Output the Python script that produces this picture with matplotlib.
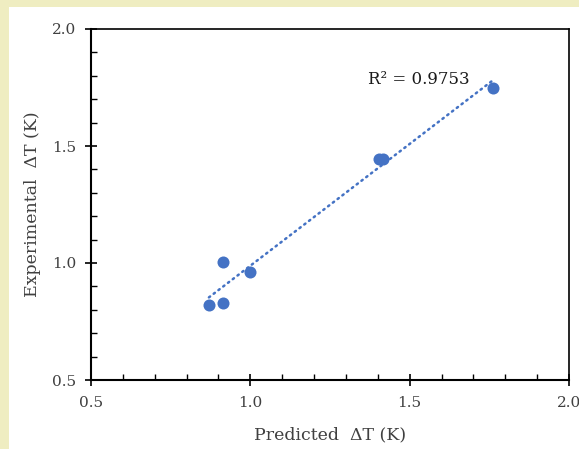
import numpy as np
import matplotlib.pyplot as plt
from matplotlib.patches import Rectangle
from matplotlib.ticker import MultipleLocator

predicted = [0.870, 0.914, 0.914, 0.999, 1.404, 1.416, 1.761]
experimental = [0.820, 0.829, 1.004, 0.960, 1.444, 1.444, 1.748]
r2_label = "R² = 0.9753"

blue = "#4472C4"
plt.rcParams['font.family'] = ['DejaVu Serif']

fig = plt.figure(figsize=(5.79, 4.49), dpi=100, facecolor="#EFEDC1")
fig.patches.append(Rectangle((9 / 579, 0), 1, 1 - 7 / 449, transform=fig.transFigure,
                             facecolor="white", edgecolor="none", zorder=-10))
ax = fig.add_axes([91 / 579, 1 - 380 / 449, 478 / 579, 351 / 449])
ax.set_zorder(5)

ax.scatter(predicted, experimental, s=75, color=blue, zorder=3, linewidths=0)

coef = np.polyfit(predicted, experimental, 1)
xs = np.array([min(predicted), max(predicted)])
ax.plot(xs, np.polyval(coef, xs), color=blue, lw=1.8, linestyle=(0, (0.6, 1.8)),
        dash_capstyle='round', zorder=2)

ax.text(1.37, 1.785, r2_label, fontsize=12, color="#1a1a1a", va='center')

ax.set_xlim(0.5, 2.0)
ax.set_ylim(0.5, 2.0)
ax.xaxis.set_major_locator(MultipleLocator(0.5))
ax.yaxis.set_major_locator(MultipleLocator(0.5))
ax.xaxis.set_minor_locator(MultipleLocator(0.1))
ax.yaxis.set_minor_locator(MultipleLocator(0.1))
ax.xaxis.set_major_formatter('{x:.1f}')
ax.yaxis.set_major_formatter('{x:.1f}')
ax.tick_params(which='major', direction='inout', length=9, width=1.2,
               labelsize=11, labelcolor="#404040")
ax.tick_params(axis='x', which='major', pad=7)
ax.tick_params(axis='y', which='major', pad=6)
ax.tick_params(which='minor', direction='in', length=4, width=1)
for s in ['left', 'bottom']:
    ax.spines[s].set_linewidth(1.5)
for s in ['top', 'right']:
    ax.spines[s].set_linewidth(1.2)

ax.set_xlabel("Predicted  ΔT (K)", fontsize=12.5, color="#404040", labelpad=12)
ax.set_ylabel("Experimental  ΔT (K)", fontsize=12.5, color="#404040", labelpad=8)

fig.savefig("out.png", dpi=100, facecolor=fig.get_facecolor())
